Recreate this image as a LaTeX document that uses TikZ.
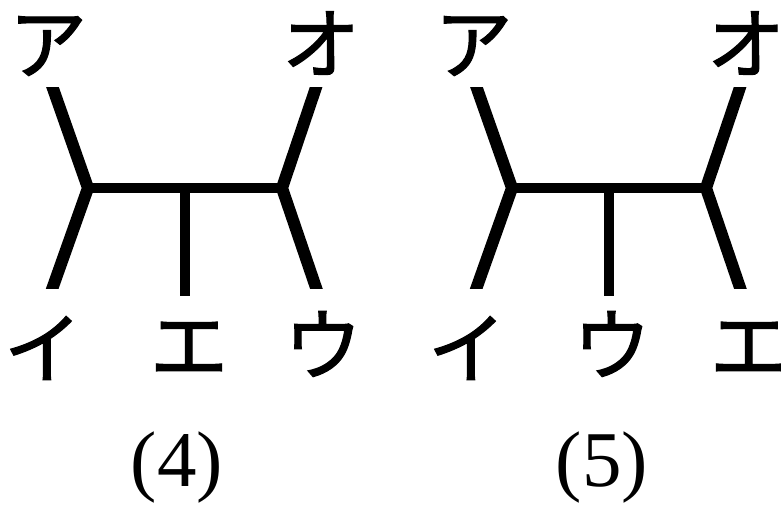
\documentclass[tikz,border=0pt]{standalone}
\usepackage{fontspec}
\setmainfont{Liberation Serif}
\newfontfamily\jp[FakeBold=1.5]{Noto Sans CJK JP}
\begin{document}
\begin{tikzpicture}[x=1pt,y=-1pt,
  kana/.style={inner sep=0pt, anchor=center, font=\jp\fontsize{78}{78}\selectfont},
  caption/.style={inner sep=0pt, anchor=center, font=\fontsize{79}{79}\selectfont},
  branch/.style={line width=12pt, line join=miter, line cap=butt},
  stem/.style={line width=10pt, line cap=butt}]
\useasboundingbox (0,0) rectangle (781,507);
\clip (0,0) rectangle (781,507);
% ---------- diagram (4) ----------
\coordinate (a4) at (50,80);
\coordinate (i4) at (50,295);
\coordinate (l4) at (88,188);
\coordinate (r4) at (282,188);
\coordinate (o4) at (318.5,80);
\coordinate (u4) at (318.5,295);
\coordinate (c4) at (185,188);
\coordinate (e4) at (185,296);
\begin{scope}
  \clip (0,87) rectangle (781,288);
  \draw[branch] (a4) -- (l4) -- (i4);
  \draw[branch] (o4) -- (r4) -- (u4);
\end{scope}
\draw[stem] (l4) -- (r4);
\draw[stem] (c4) -- (e4);
\node[kana] (A4) at (48,46) {ア};
\node[kana] (O4) at (321,43) {オ};
\node[kana] (I4) at (43,348) {イ};
\node[kana] (E4) at (189,348) {エ};
\node[kana] (U4) at (323,344) {ウ};
\node[caption] (n4) at (177,467) {(4)};
% ---------- diagram (5) ----------
\coordinate (a5) at (474,80);
\coordinate (i5) at (474,295);
\coordinate (l5) at (512,188);
\coordinate (r5) at (706,188);
\coordinate (o5) at (742.5,80);
\coordinate (u5) at (742.5,295);
\coordinate (c5) at (609,188);
\coordinate (e5) at (609,296);
\begin{scope}
  \clip (0,87) rectangle (781,288);
  \draw[branch] (a5) -- (l5) -- (i5);
  \draw[branch] (o5) -- (r5) -- (u5);
\end{scope}
\draw[stem] (l5) -- (r5);
\draw[stem] (c5) -- (e5);
\node[kana] (A5) at (473.5,46) {ア};
\node[kana] (O5) at (746,43) {オ};
\node[kana] (I5) at (467,348) {イ};
\node[kana] (U5) at (612,344) {ウ};
\node[kana] (E5) at (749,348) {エ};
\node[caption] (n5) at (602,467) {(5)};
\end{tikzpicture}
\end{document}
